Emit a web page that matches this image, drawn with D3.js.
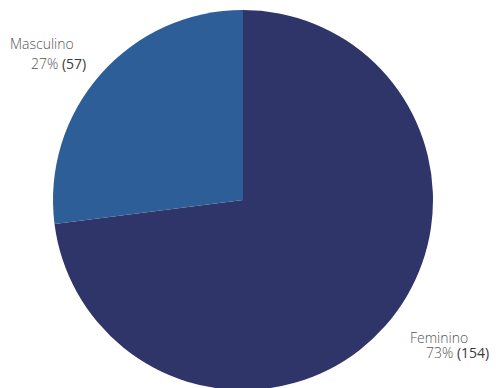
<!DOCTYPE html>
<html>
<head>
<meta charset="utf-8">
<script src="https://cdn.jsdelivr.net/npm/d3@7"></script>
<style>
  html, body { margin: 0; padding: 0; background: #fff; }
  svg { display: block; }
  .lbl { font-family: "Open Sans", sans-serif; font-size: 14px; fill: #555; font-weight: 300; }
  .pct { font-weight: 300; fill: #555; }
  .cnt { font-weight: 400; fill: #3a3a3a; }
</style>
</head>
<body>
<svg id="chart" width="496" height="388"></svg>
<script>
const categories = ["Feminino", "Masculino"];
const counts = [154, 57];
const percents = ["73%", "27%"];
const colors = ["#2f3469", "#2d5e97"];

const width = 496, height = 388;
const cx = 243, cy = 200, radius = 190;

const svg = d3.select("#chart");
const g = svg.append("g").attr("transform", `translate(${cx},${cy})`);

const data = categories.map((c, i) => ({ name: c, value: counts[i], pct: percents[i], color: colors[i] }));

const pie = d3.pie().sort(null).value(d => d.value);
const arc = d3.arc().innerRadius(0).outerRadius(radius);
const arcs = pie(data);

g.selectAll("path.slice")
  .data(arcs)
  .join("path")
  .attr("class", "slice")
  .attr("d", arc)
  .attr("fill", d => d.data.color);

// Labels placed outside the pie, two lines each: name, then "pct (count)"
const labelPos = {
  "Masculino": { x1: 10, y1: 49, x2: 31, y2: 69 },
  "Feminino": { x1: 410, y1: 343, x2: 426, y2: 358 }
};

data.forEach(d => {
  const p = labelPos[d.name];
  svg.append("text").attr("class", "lbl").attr("x", p.x1).attr("y", p.y1).text(d.name);
  const t = svg.append("text").attr("class", "lbl").attr("x", p.x2).attr("y", p.y2);
  t.append("tspan").attr("class", "pct").text(d.pct);
  t.append("tspan").attr("class", "cnt").text(" (" + d.value + ")");
});
</script>
</body>
</html>
